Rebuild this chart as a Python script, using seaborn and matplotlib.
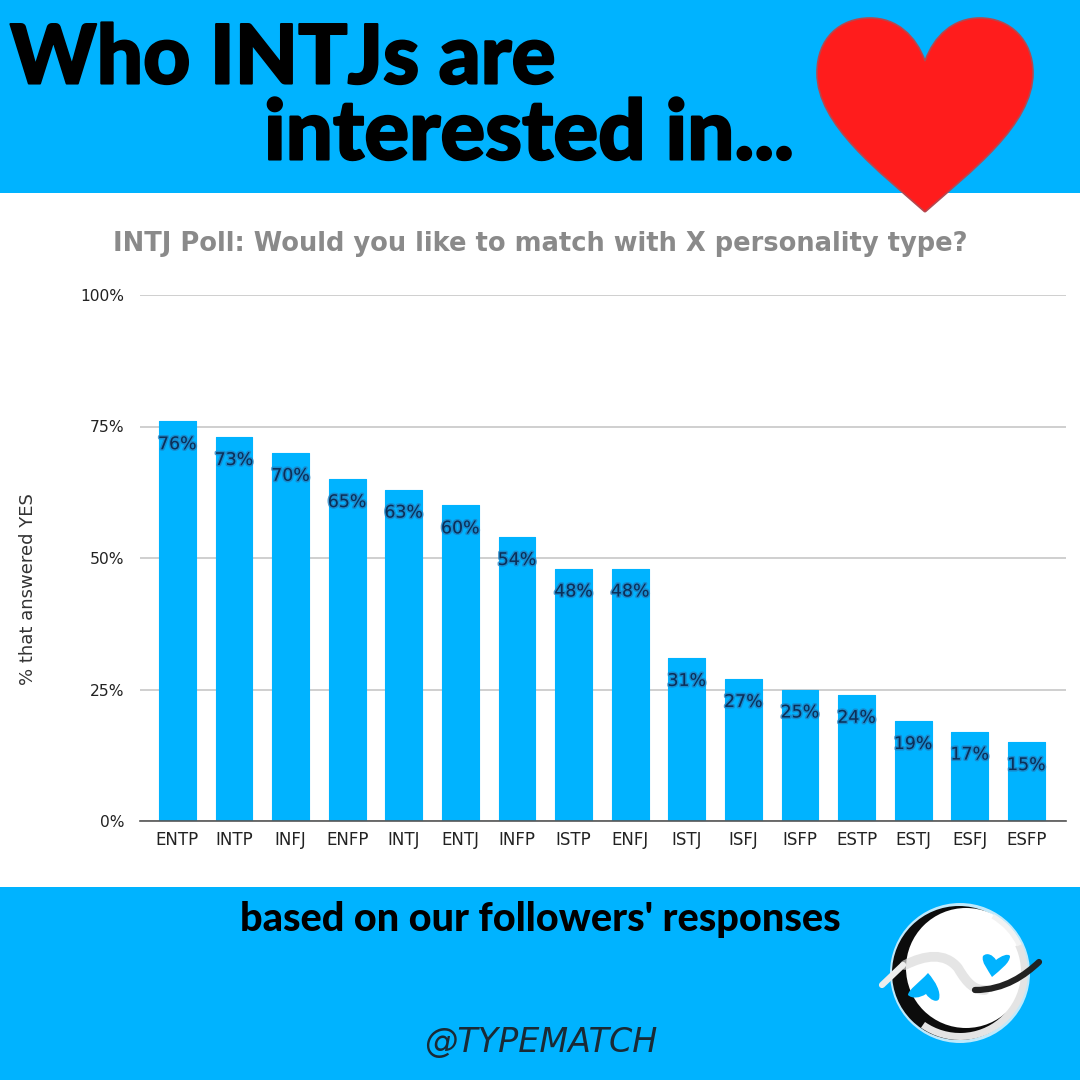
import matplotlib
matplotlib.use("Agg")
import matplotlib.pyplot as plt
import matplotlib.patheffects as pe
from matplotlib.path import Path
from matplotlib.patches import PathPatch, Circle, Rectangle, Wedge
import pandas as pd
import seaborn as sns

types = ["ENTP", "INTP", "INFJ", "ENFP", "INTJ", "ENTJ", "INFP", "ISTP",
         "ENFJ", "ISTJ", "ISFJ", "ISFP", "ESTP", "ESTJ", "ESFJ", "ESFP"]
yes_pct = [76, 73, 70, 65, 63, 60, 54, 48, 48, 31, 27, 25, 24, 19, 17, 15]
y_ticks = [0, 25, 50, 75, 100]

BLUE = "#00B3FF"

sns.set_theme(style="whitegrid")
plt.rcParams["font.family"] = ["DejaVu Sans"]

fig = plt.figure(figsize=(10.8, 10.8), dpi=100, facecolor="white")

# background layer in pixel coordinates (bands, heart, logo)
bg = fig.add_axes([0, 0, 1, 1], zorder=0)
bg.set_xlim(0, 1080)
bg.set_ylim(1080, 0)
bg.axis("off")
bg.add_patch(Rectangle((0, 0), 1080, 193, color=BLUE, lw=0))
bg.add_patch(Rectangle((0, 887), 1080, 193, color=BLUE, lw=0))

# chart
df = pd.DataFrame({"type": types, "yes": yes_pct})
ax = fig.add_axes([140 / 1080, 259 / 1080, 926 / 1080, 526 / 1080], zorder=1)
ax.patch.set_alpha(0)
sns.barplot(data=df, x="type", y="yes", color=BLUE, saturation=1, width=0.65, ax=ax, zorder=2)
for bar in ax.containers[0]:
    bar.set_edgecolor(BLUE)
    bar.set_linewidth(0.8)
    bar.set_joinstyle("round")
ax.set_xlim(-0.66, 15.70)
ax.set_ylim(0, 100)
ax.set_yticks(y_ticks)
ax.set_yticklabels([f"{v}%" for v in y_ticks], fontsize=11.2, color="#222222")
ax.tick_params(axis="y", pad=11, length=0)
ax.tick_params(axis="x", pad=7, length=0, labelsize=12, labelcolor="#222222")
ax.set_xlabel("")
ax.set_ylabel("% that answered YES", fontsize=13, color="#333333", labelpad=0)
ax.yaxis.set_label_coords(-103 / 926, 0.44)
ax.grid(axis="x", visible=False)
ax.grid(axis="y", color="#cccccc", lw=1.3)
ax.set_axisbelow(True)
for name in ["top", "left", "right"]:
    ax.spines[name].set_visible(False)
ax.spines["bottom"].set_color("#555555")
ax.spines["bottom"].set_linewidth(1.2)

labels = ax.bar_label(ax.containers[0], fmt="%d%%", padding=-23, fontsize=12.5, color="#0B2F58")
for lab in labels:
    lab.set_path_effects([pe.withStroke(linewidth=2.2, foreground="#1F7FC0", alpha=0.75)])

fig.text(540 / 1080, 1 - 244 / 1080, "INTJ Poll: Would you like to match with X personality type?",
         ha="center", va="center", fontsize=18.5, fontweight="bold", color="#8A8A8A", family="DejaVu Sans")

# headline, stroked a little to get the heavier look
heavy = [pe.withStroke(linewidth=1.5, foreground="black")]
fig.text(10 / 1080, 1 - 60 / 1080, "Who INTJs are", ha="left", va="center", fontsize=59,
         fontweight="black", family="Lato", color="black", path_effects=heavy)
fig.text(264 / 1080, 1 - 135 / 1080, "interested in...", ha="left", va="center", fontsize=60,
         fontweight="black", family="Lato", color="black", path_effects=heavy)

# footer
fig.text(540 / 1080, 1 - 919 / 1080, "based on our followers' responses", ha="center", va="center",
         fontsize=28.5, fontweight="black", family="Lato", color="black")
fig.text(541 / 1080, 1 - 1043 / 1080, "@TYPEMATCH", ha="center", va="center", fontsize=24,
         style="italic", family="DejaVu Sans", color="#1a2a35")

# heart
heart_verts = [(925, 212),
               (880, 172), (817, 125), (817, 73),
               (817, 38), (840, 18), (870, 18),
               (897, 18), (916, 36), (925, 61),
               (934, 36), (953, 18), (980, 18),
               (1010, 18), (1033, 40), (1033, 73),
               (1033, 125), (970, 172), (925, 212)]
heart_codes = [Path.MOVETO] + [Path.CURVE4] * 18
bg.add_patch(PathPatch(Path(heart_verts, heart_codes), facecolor="#FF1C1C", edgecolor="#B5474F", lw=1.2, zorder=5))

# logo: white disc over a black crescent, wave and two hearts
bg.add_patch(Circle((960, 973), 70, facecolor="#BFE9FB", lw=0, zorder=3))
bg.add_patch(Circle((959, 973), 67, facecolor="#0C0C0C", lw=0, zorder=3))
bg.add_patch(Circle((966, 968), 60, facecolor="white", lw=0, zorder=3))
bg.add_patch(Wedge((960, 972), 68, -25, 125, width=7, facecolor="#E4E4E4", lw=0, zorder=4))
bg.add_patch(Wedge((960, 973), 68, -60, -25, width=5, facecolor="#F2F2F2", lw=0, zorder=4))
wave = Path([(905, 965), (925, 955), (945, 952), (958, 968), (968, 985), (975, 990), (985, 990)],
            [Path.MOVETO] + [Path.CURVE4] * 6)
bg.add_patch(PathPatch(wave, facecolor="none", edgecolor="#DADADA", lw=7, alpha=0.7, capstyle="round", zorder=5))
stick = Path([(882, 985), (903, 965)], [Path.MOVETO, Path.LINETO])
bg.add_patch(PathPatch(stick, facecolor="none", edgecolor="#EDEDED", lw=4.5, capstyle="round", zorder=6))
tail = Path([(975, 990), (1005, 990), (1025, 975), (1039, 962)], [Path.MOVETO] + [Path.CURVE4] * 3)
bg.add_patch(PathPatch(tail, facecolor="none", edgecolor="#222222", lw=4.5, capstyle="round", zorder=6))
right_heart = Path([(992, 977), (988, 970), (981, 962), (983, 956), (987, 952), (993, 955), (996, 960),
                    (1001, 956), (1008, 953), (1010, 956), (1010, 963), (1000, 970), (992, 977)],
                   [Path.MOVETO] + [Path.CURVE4] * 12)
bg.add_patch(PathPatch(right_heart, facecolor=BLUE, lw=0, zorder=6))
left_heart = Path([(928, 973), (920, 982), (908, 990), (908, 995), (912, 999), (920, 998), (926, 994),
                   (930, 1000), (937, 1003), (939, 999), (941, 992), (936, 982), (928, 973)],
                  [Path.MOVETO] + [Path.CURVE4] * 12)
bg.add_patch(PathPatch(left_heart, facecolor=BLUE, lw=0, zorder=6))

fig.savefig("out.png", dpi=100)
